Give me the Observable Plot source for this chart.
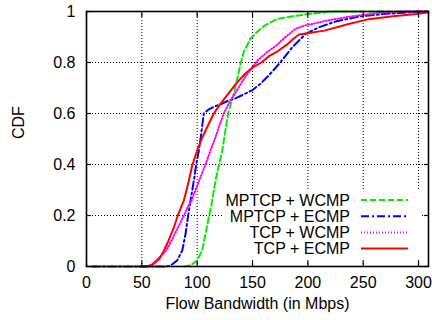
<!DOCTYPE html>
<html><head><meta charset="utf-8">
<script src="https://cdn.jsdelivr.net/npm/d3@7"></script>
<script src="https://cdn.jsdelivr.net/npm/@observablehq/plot@0.6"></script>
<style>
body{margin:0;background:#fff}
svg{font-family:"Liberation Sans",Arial,Helvetica,sans-serif}
</style>
</head><body><div id="chart"></div>
<script>
// ---- data ----
const seriesNames = ["MPTCP + WCMP", "MPTCP + ECMP", "TCP + WCMP", "TCP + ECMP"];
const seriesColors = ["#00ee00", "#0000ff", "#ff00ff", "#ff0000"];
const seriesDash = ["6,3", "8,3,2,3", "1,2", null];

const xTicks = [0, 50, 100, 150, 200, 250, 300];
const yTicks = [0, 0.2, 0.4, 0.6, 0.8, 1];

const mptcpWcmpX = [88, 94, 100, 104.5, 107.5, 110.5, 113.6, 116.6, 119.6, 122.6, 125, 128, 133, 137, 139.5, 142, 148, 154, 161, 172, 185, 200, 222, 309];
const mptcpWcmpY = [0, 0.004, 0.024, 0.063, 0.128, 0.193, 0.259, 0.337, 0.396, 0.455, 0.52, 0.6, 0.677, 0.75, 0.8, 0.84, 0.893, 0.919, 0.945, 0.971, 0.98, 0.99, 1, 1];

const mptcpEcmpX = [5, 72, 76, 82, 86.5, 89.5, 91.6, 94, 97, 99, 101.5, 103, 104.5, 106, 110, 116, 122, 127, 135, 143, 150, 157, 163, 169, 175, 186, 198, 210, 226, 246, 268, 286, 300, 309];
const mptcpEcmpY = [0, 0, 0.004, 0.024, 0.063, 0.128, 0.193, 0.259, 0.337, 0.396, 0.455, 0.5, 0.55, 0.6, 0.615, 0.628, 0.638, 0.648, 0.66, 0.677, 0.692, 0.716, 0.742, 0.77, 0.8, 0.86, 0.912, 0.938, 0.962, 0.98, 0.99, 0.995, 1, 1];

const tcpWcmpX = [52, 58, 63, 68, 72, 76, 80, 84, 88, 91, 95, 98.5, 103, 107.5, 112, 116, 119.5, 124, 130, 137.6, 145, 155, 163, 171, 178, 184, 189, 197, 205, 215, 223, 235, 245, 266, 285, 309];
const tcpWcmpY = [0, 0.004, 0.024, 0.045, 0.063, 0.095, 0.13, 0.165, 0.2, 0.23, 0.26, 0.3, 0.35, 0.4, 0.455, 0.5, 0.546, 0.6, 0.651, 0.703, 0.755, 0.81, 0.84, 0.865, 0.893, 0.915, 0.932, 0.945, 0.952, 0.962, 0.969, 0.978, 0.984, 0.995, 1, 1];

const tcpEcmpX = [48, 56, 60, 66, 70, 74, 79, 83, 88, 92.5, 95.5, 100, 104, 109, 115, 121, 128, 135, 143, 150, 158, 165, 173, 181, 187, 192, 200, 215, 236, 255, 275, 298, 309];
const tcpEcmpY = [0, 0.002, 0.008, 0.03, 0.063, 0.1, 0.154, 0.206, 0.259, 0.337, 0.396, 0.455, 0.5, 0.546, 0.6, 0.638, 0.677, 0.716, 0.755, 0.78, 0.8, 0.825, 0.845, 0.87, 0.893, 0.91, 0.915, 0.925, 0.95, 0.97, 0.98, 0.99, 0.997];

const seriesX = [mptcpWcmpX, mptcpEcmpX, tcpWcmpX, tcpEcmpX];
const seriesY = [mptcpWcmpY, mptcpEcmpY, tcpWcmpY, tcpEcmpY];

// ---- build ----
const lineMarks = seriesNames.map((name, i) => {
  const rows = seriesX[i].map((x, j) => ({x, y: seriesY[i][j]}));
  return Plot.line(rows, {
    x: "x", y: "y", stroke: seriesColors[i], strokeWidth: 2,
    strokeDasharray: seriesDash[i] || undefined, strokeLinejoin: "round"
  });
});

const gridStyle = {stroke: "#000", strokeOpacity: 1, strokeDasharray: "1,2", strokeWidth: 1};
const noText = () => "";
const tickLen = 5;

const plot = Plot.plot({
  width: 432, height: 320,
  marginLeft: 86, marginRight: 4, marginTop: 11, marginBottom: 54,
  style: {fontSize: "16px", fontFamily: "'Liberation Sans', Arial, sans-serif", background: "white", color: "black"},
  x: {domain: [0, 309]},
  y: {domain: [0, 1]},
  marks: [
    Plot.gridX(xTicks.filter(v => v > 0), gridStyle),
    Plot.gridY(yTicks.filter(v => v > 0 && v < 1), gridStyle),
    ...lineMarks,
    Plot.axisX(xTicks, {anchor: "bottom", tickSize: 0, tickPadding: 10, label: null, tickFormat: d => String(d)}),
    Plot.axisY(yTicks, {anchor: "left", tickSize: 0, tickPadding: 11, label: null, tickFormat: d => String(d)}),
    // inward tick marks on all four sides (gnuplot "mirror" style)
    Plot.axisX(xTicks, {anchor: "bottom", tickSize: tickLen, dy: -tickLen, tickFormat: noText, label: null, strokeWidth: 1.2}),
    Plot.axisX(xTicks, {anchor: "top", tickSize: tickLen, dy: tickLen, tickFormat: noText, label: null, strokeWidth: 1.2}),
    Plot.axisY(yTicks, {anchor: "left", tickSize: tickLen, dx: tickLen, tickFormat: noText, label: null, strokeWidth: 1.2}),
    Plot.axisY(yTicks, {anchor: "right", tickSize: tickLen, dx: -tickLen, tickFormat: noText, label: null, strokeWidth: 1.2}),
    Plot.frame({stroke: "black", strokeWidth: 1.6}),
    Plot.text(["Flow Bandwidth (in Mbps)"], {frameAnchor: "bottom", dy: 42, fontSize: 16}),
    Plot.text(["CDF"], {frameAnchor: "left", dx: -68, rotate: -90, fontSize: 16})
  ]
});
document.getElementById("chart").appendChild(plot);

// ---- legend (gnuplot-style key, bottom right inside the frame) ----
const svg = d3.select(plot);
const firstLine = plot.querySelector("g[aria-label='line']");
const bg = document.createElementNS("http://www.w3.org/2000/svg", "rect");
bg.setAttribute("x", 224); bg.setAttribute("y", 190);
bg.setAttribute("width", 196); bg.setAttribute("height", 69);
bg.setAttribute("fill", "white");
plot.insertBefore(bg, firstLine);
const kg = svg.append("g").attr("class", "key-entries");
seriesNames.forEach((name, i) => {
  const y = 200 + i * 16.2;
  kg.append("text").attr("x", 350).attr("y", y).attr("dy", "0.35em")
    .attr("text-anchor", "end").attr("font-size", 16).attr("fill", "black").text(name);
  kg.append("line").attr("x1", 361).attr("x2", 408).attr("y1", y).attr("y2", y)
    .attr("stroke", seriesColors[i]).attr("stroke-width", 2)
    .attr("stroke-dasharray", seriesDash[i]);
});
</script>
</body></html>
